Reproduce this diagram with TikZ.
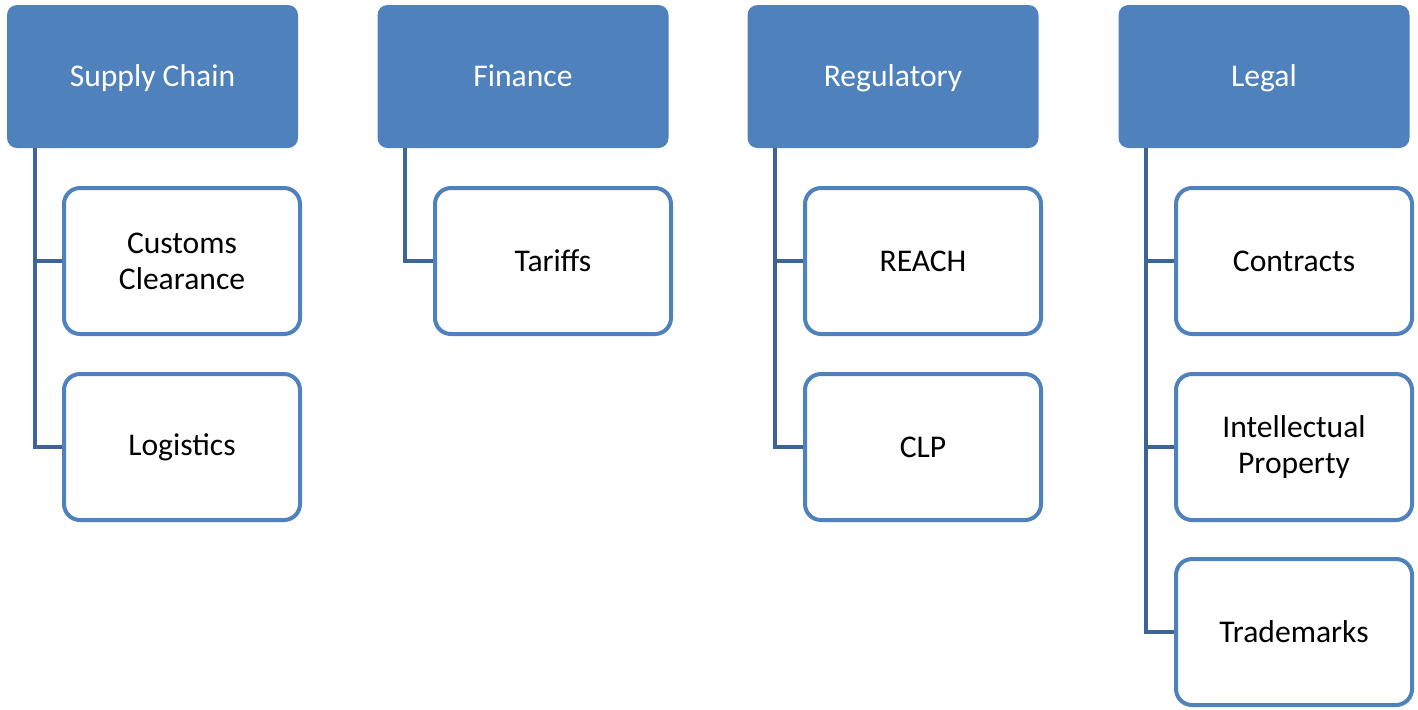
\documentclass[tikz,border=0pt]{standalone}
\usepackage{fontspec}
\setmainfont{Carlito}
\usetikzlibrary{positioning}

\definecolor{hdblue}{HTML}{4F81BD}
\definecolor{lnblue}{HTML}{3C6494}

\tikzset{
    head/.style={draw=none, fill=hdblue, rounded corners=5pt, text=white,
        minimum width=145.5pt, minimum height=71.5pt, inner sep=0pt,
        text height=12pt, text depth=2pt,
        font=\fontsize{15.8}{19}\selectfont},
    item/.style={draw=hdblue, line width=2pt, fill=white, rounded corners=8pt,
        minimum width=118pt, minimum height=73pt, inner sep=0pt, align=center,
        font=\fontsize{15.8}{18}\selectfont},
    conn/.style={draw=lnblue, line width=2pt}
}

\begin{document}
\begin{tikzpicture}[x=0.5pt, y=-0.5pt]
            \useasboundingbox (0, 0) rectangle (1418, 709);

            % headers
            \node [head] (sc)  at (152.5, 76.5) {Supply Chain};
            \node [head] (fin) at (523, 76.5) {Finance};
            \node [head] (reg) at (893, 76.5) {Regulatory};
            \node [head] (leg) at (1264, 76.5) {Legal};

            % items
            \node [item] (cc)  at (182, 261) {Customs\\Clearance};
            \node [item] (log) at (182, 447) {Logistics};
            \node [item] (tar) at (553, 261) {Tariffs};
            \node [item] (rch) at (923, 261) {REACH};
            \node [item] (clp) at (923, 447) {CLP};
            \node [item] (con) at (1294, 261) {Contracts};
            \node [item] (ip)  at (1294, 447) {Intellectual\\Property};
            \node [item] (tm)  at (1294, 632) {Trademarks};

            % connectors
            \draw [conn] ([xshift=14pt]sc.south west) |- (cc.west);
            \draw [conn] ([xshift=14pt]sc.south west) |- (log.west);
            \draw [conn] ([xshift=14pt]fin.south west) |- (tar.west);
            \draw [conn] ([xshift=14pt]reg.south west) |- (rch.west);
            \draw [conn] ([xshift=14pt]reg.south west) |- (clp.west);
            \draw [conn] ([xshift=14pt]leg.south west) |- (con.west);
            \draw [conn] ([xshift=14pt]leg.south west) |- (ip.west);
            \draw [conn] ([xshift=14pt]leg.south west) |- (tm.west);
        \end{tikzpicture}
\end{document}
